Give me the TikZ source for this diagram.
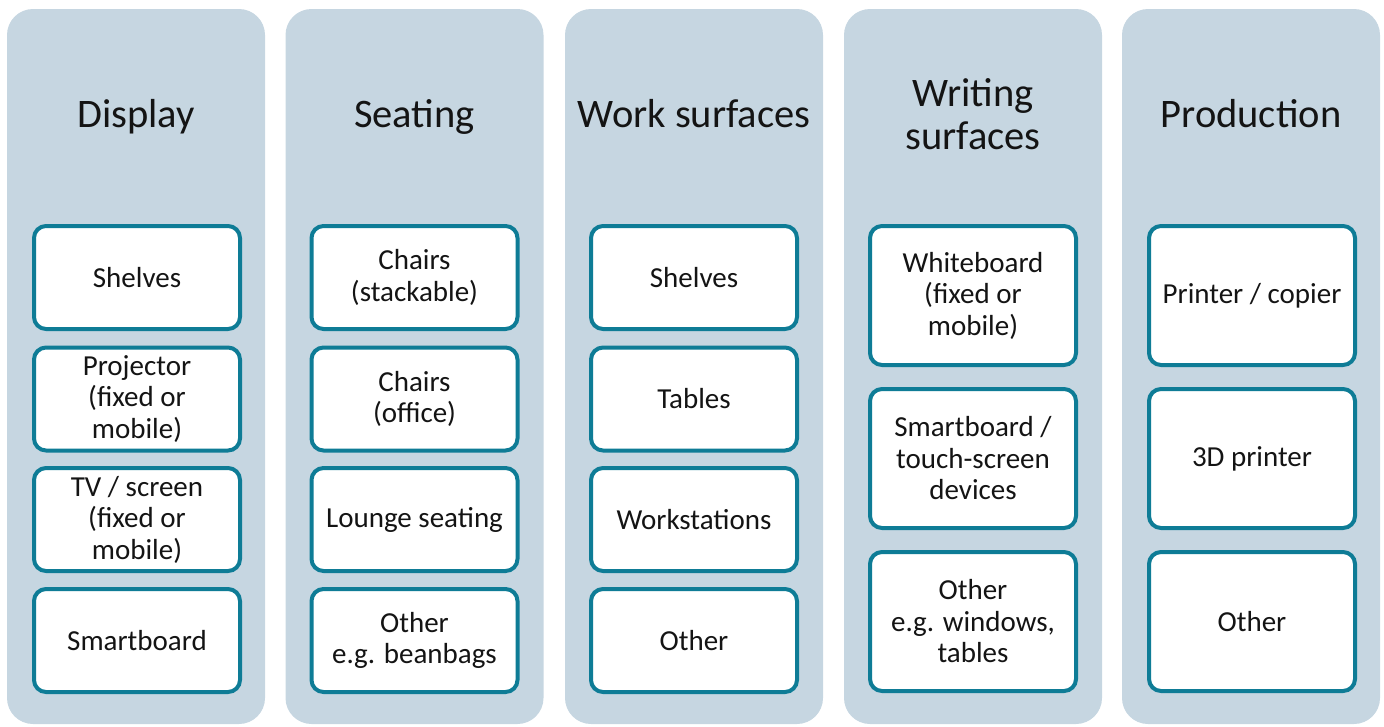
\documentclass[tikz,border=0pt]{standalone}
\usepackage{fontspec}
\setmainfont{Carlito}
\definecolor{panelfill}{HTML}{C6D6E1}
\definecolor{boxline}{HTML}{0E7C96}
\definecolor{txt}{HTML}{141414}
\begin{document}
\begin{tikzpicture}[x=1pt,y=-1pt,
  panel/.style={fill=panelfill, draw=none, rounded corners=26pt, minimum width=258pt, minimum height=715pt, inner sep=0pt},
  titlebase/.style={text=txt, align=center, font=\fontsize{40.5}{43}\selectfont, inner sep=0pt},
  title/.style={titlebase, text height=29pt, text depth=9pt},
  itembox/.style={draw=boxline, line width=4pt, fill=white, rounded corners=12pt, minimum width=206pt, inner sep=0pt, text=txt, align=center, font=\fontsize{29}{31.5}\selectfont},
  shortbox/.style={itembox, minimum height=103pt},
  tallbox/.style={itembox, minimum height=139pt}]
\useasboundingbox (0,0) rectangle (1384,726);
% panels
\node[panel] (p1) at (136,366.5) {};
\node[panel] (p2) at (414.5,366.5) {};
\node[panel] (p3) at (694,366.5) {};
\node[panel] (p4) at (973,366.5) {};
\node[panel] (p5) at (1251,366.5) {};
% titles
\node[title] (t1) at (136,117) {Display};
\node[title] (t2) at (414.5,117) {Seating};
\node[title] (t3) at (694,117) {Work surfaces};
\node[titlebase] (t4) at (973,114) {Writing\\surfaces};
\node[title] (t5) at (1251,117) {Production};
% column 1
\node[shortbox] (a1) at (137,277.5) {Shelves};
\node[shortbox] (a2) at (137,399) {Projector\\(fixed or\\mobile)};
\node[shortbox] (a3) at (137,519.5) {TV / screen\\(fixed or\\mobile)};
\node[shortbox] (a4) at (137,640.5) {Smartboard};
% column 2
\node[shortbox] (b1) at (414.5,277.5) {Chairs\\(stackable)};
\node[shortbox] (b2) at (414.5,399) {Chairs\\(office)};
\node[shortbox] (b3) at (414.5,519.5) {Lounge seating};
\node[shortbox] (b4) at (414.5,640.5) {Other\\e.g. beanbags};
% column 3
\node[shortbox] (c1) at (694,277.5) {Shelves};
\node[shortbox] (c2) at (694,399) {Tables};
\node[shortbox] (c3) at (694,519.5) {Workstations};
\node[shortbox] (c4) at (694,640.5) {Other};
% column 4
\node[tallbox] (d1) at (973,295.5) {Whiteboard\\(fixed or\\mobile)};
\node[tallbox] (d2) at (973,458.5) {Smartboard /\\touch-screen\\devices};
\node[tallbox] (d3) at (973,621.5) {Other\\e.g. windows,\\tables};
% column 5
\node[tallbox] (e1) at (1252,295.5) {Printer / copier};
\node[tallbox] (e2) at (1252,458.5) {3D printer};
\node[tallbox] (e3) at (1252,621.5) {Other};
\end{tikzpicture}
\end{document}
